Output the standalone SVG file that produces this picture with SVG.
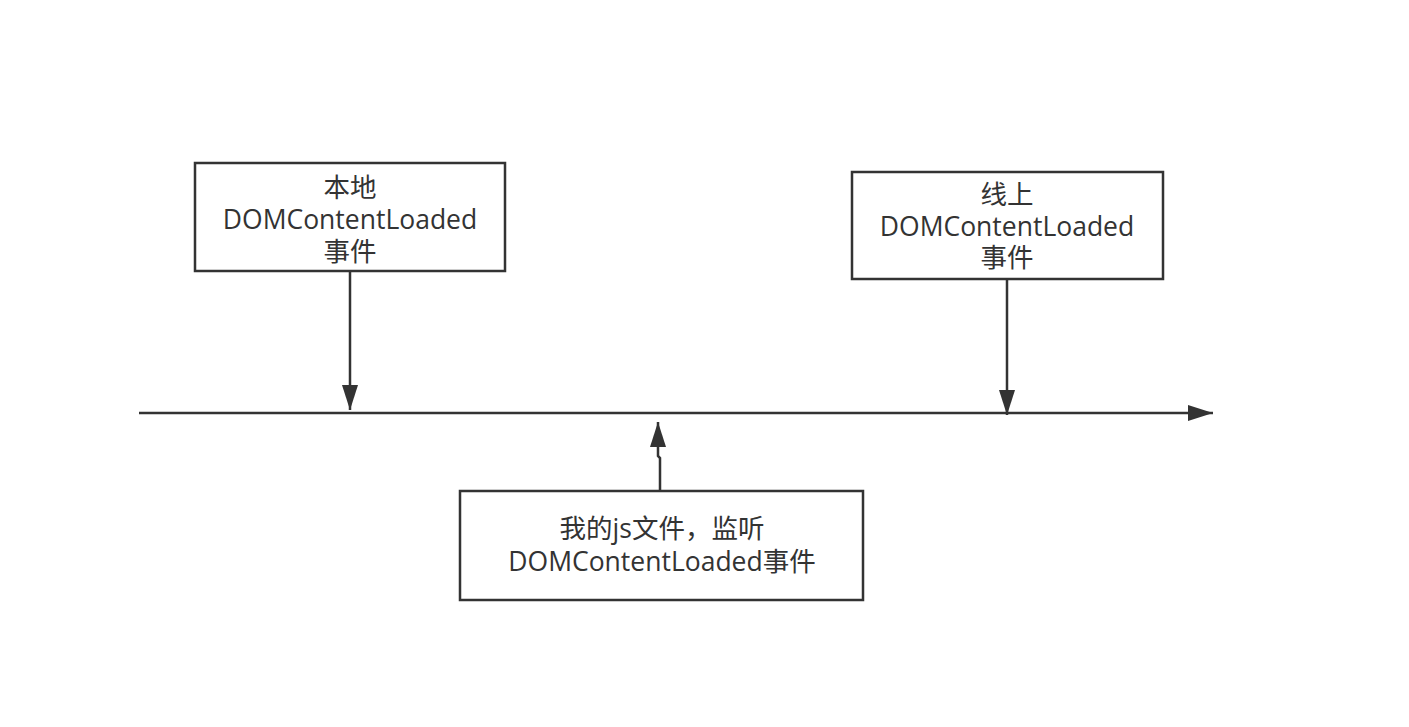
<svg xmlns="http://www.w3.org/2000/svg" width="1409" height="727" viewBox="0 0 1409 727">
<defs>
<style>
.box{fill:#fff;stroke:#333;stroke-width:2.5}
.t{font-family:"Open Sans","Noto Sans CJK SC",sans-serif;font-size:26.5px;fill:#333;text-anchor:middle}
.c{fill:none;stroke:#333;stroke-width:2.5}
</style>
<marker id="ah2" viewBox="0 0 25 16" refX="25" refY="8" markerWidth="25" markerHeight="16" markerUnits="userSpaceOnUse" orient="auto">
<path d="M0,0 L25,8 L0,16 z" fill="#333"/>
</marker>
</defs>
<rect width="1409" height="727" fill="#fff"/>
<g id="connectors">
<path class="c" d="M139,413 L1213,413" marker-end="url(#ah2)"/>
<path class="c" d="M350,271 L350,410" marker-end="url(#ah2)"/>
<path class="c" d="M1007,279 L1007,415" marker-end="url(#ah2)"/>
<path class="c" d="M660,491 L660,458 L658,456 L658,422" marker-end="url(#ah2)"/>
</g>
<g id="node-local">
<rect class="box" x="195" y="163" width="310" height="108"/>
<text class="t" x="350" y="197">本地</text>
<text class="t" x="350" y="229">DOMContentLoaded</text>
<text class="t" x="350" y="261">事件</text>
</g>
<g id="node-online">
<rect class="box" x="852" y="172" width="311" height="107"/>
<text class="t" x="1007" y="204">线上</text>
<text class="t" x="1007" y="236">DOMContentLoaded</text>
<text class="t" x="1007" y="267">事件</text>
</g>
<g id="node-js">
<rect class="box" x="460" y="491" width="403" height="109"/>
<text class="t" x="662" y="538">我的js文件，监听</text>
<text class="t" x="662" y="571">DOMContentLoaded事件</text>
</g>
</svg>
